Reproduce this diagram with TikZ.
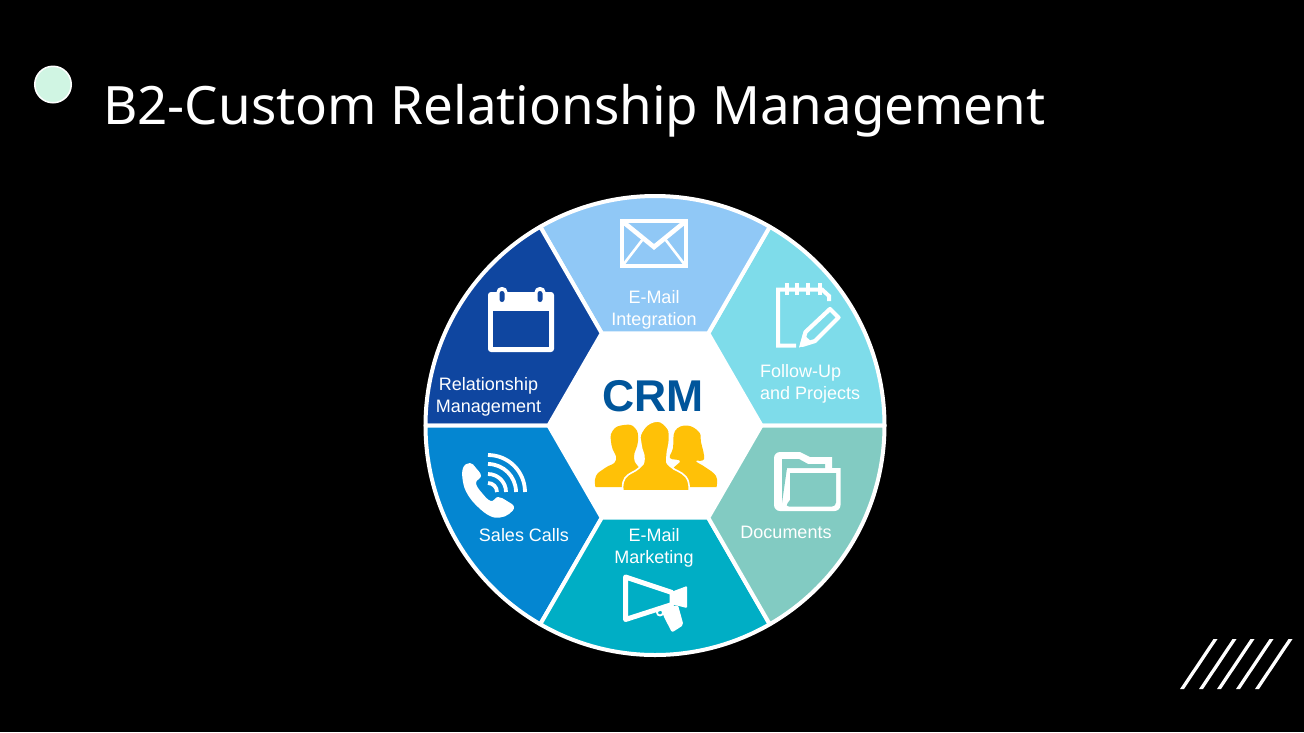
\documentclass[tikz,border=0pt]{standalone}
\usepackage{fontspec}
\setmainfont{Liberation Sans}
\newfontfamily\titlefont{Noto Sans}
\definecolor{docteal}{RGB}{130,203,194}
\definecolor{followcyan}{RGB}{126,220,234}
\definecolor{maillight}{RGB}{144,200,246}
\definecolor{relblue}{RGB}{15,70,160}
\definecolor{callblue}{RGB}{4,134,209}
\definecolor{marketcyan}{RGB}{0,174,197}
\definecolor{crmblue}{RGB}{0,85,155}
\definecolor{peoplegold}{RGB}{255,193,7}
\definecolor{dotmint}{RGB}{208,245,227}
\tikzset{
	sector/.style={draw=white,line width=4pt,line join=round},
	wheeltext/.style={text=white,font=\fontsize{18}{22}\selectfont,inner sep=0pt},
	iconline/.style={draw=white,line width=3.6pt},
	person/.style={fill=peoplegold,draw=none},
}
\begin{document}
\begin{tikzpicture}[x=1pt,y=-1pt]
	\fill[black] (0,0) rectangle (1304,732);
	\useasboundingbox (0,0) rectangle (1304,732);
	\coordinate (c) at (655,425.5);
	\foreach \i in {0,...,5} {
		\coordinate (o\i) at ({655+229.5*cos(\i*60)},{425.5-229.5*sin(\i*60)});
		\coordinate (h\i) at ({655+106.5*cos(\i*60)},{425.5-106.5*sin(\i*60)});
	}
	\node[circle,draw=white,line width=1.5pt,fill=dotmint,minimum size=36.5pt,inner sep=0pt] (dot) at (53,84.5) {};
	\node[anchor=base west,text=white,inner sep=0pt,font=\titlefont\fontsize{52.9}{60}\selectfont] (title) at (103,124) {B2-Custom Relationship Management};
	\foreach \i/\j/\a/\col in {0/1/0/followcyan,1/2/60/maillight,2/3/120/relblue,3/4/180/callblue,4/5/240/marketcyan,5/0/300/docteal} {
		\filldraw[sector,fill=\col] (h\i) -- (o\i) arc[start angle=\a,delta angle=60,radius=229.5pt] -- (h\j) -- cycle;
	}
	\fill[white] (h0) -- (h1) -- (h2) -- (h3) -- (h4) -- (h5) -- cycle;
	\node[text=crmblue,inner sep=0pt,font=\bfseries\fontsize{44.5}{50}\selectfont] (crm) at (653,396.5) {CRM};
	\node[wheeltext,align=center] (mail) at (654,310) {E-Mail\\Integration};
	\node[wheeltext,align=center] (rel) at (488.5,397) {Relationship\\Management};
	\node[wheeltext,align=left,anchor=west] (follow) at (760,384) {Follow-Up\\and Projects};
	\node[wheeltext] (docs) at (786,532) {Documents};
	\node[wheeltext] (calls) at (524,535) {Sales Calls};
	\node[wheeltext,align=center] (market) at (654,548) {E-Mail\\Marketing};
	% envelope
	\draw[iconline,line width=4.6pt] (622,221) rectangle (686,266);
	\draw[iconline,line width=4.6pt] (622,221) -- (654,247) -- (686,221);
	\draw[iconline,line width=2.6pt] (623,265) -- (643,239) (685,265) -- (665,239);
	% calendar
	\fill[white,rounded corners=3pt] (488,292) rectangle (554,352);
	\fill[relblue] (493,311) rectangle (549,347);
	\foreach \x in {502,540} {
		\fill[white,rounded corners=5pt] (\x-5.5,287) rectangle (\x+5.5,305);
		\fill[relblue,rounded corners=2.5pt] (\x-2.5,291) rectangle (\x+2.5,302);
	}
	% notepad and pencil
	\draw[iconline,line width=4pt] (796,345.5) -- (778,345.5) -- (778,289.5) -- (822,289.5) -- (829,296) -- (829,301);
	\foreach \x in {787,797,808,820} {
		\draw[white,line width=3.6pt] (\x,283) -- (\x,295);
	}
	\draw[iconline,line width=4.2pt,line join=round] (802,345) -- (805.5,332) -- (830,309) -- (838.5,317.5) -- (815,341) -- cycle;
	\fill[white] (799,347.5) -- (803,334) -- (813,343) -- cycle;
	% folder
	\fill[white] (774,452) -- (800,452) -- (810,457) -- (832,457) -- (832,468) -- (840.5,468) -- (840.5,503) [rounded corners=6pt] -- (840.5,511) -- (774,511) -- cycle;
	\fill[docteal] (782,459) -- (799,459) -- (808,464) -- (825,464) -- (825,468) -- (787,468) -- (782,503) -- cycle;
	\fill[docteal] (790,473) -- (836,473) -- (836,500) [rounded corners=4pt] -- (836,506.5) -- (785,506.5) [sharp corners] -- (790,500) -- cycle;
	% megaphone
	\draw[iconline,line width=5pt,line join=round] (625.5,577) -- (672,592.5) -- (672,604.5) -- (625.5,619.5) -- cycle;
	\fill[white,rounded corners=1pt] (671,592) -- (687,586) -- (687,608) -- (671,604) -- cycle;
	\fill[white,rounded corners=2pt] (661,609) -- (678,605) -- (683.5,625) -- (672,632.5) -- (664,617) -- cycle;
	\draw[white,line width=1.8pt] (660,612.5) circle (3pt);
	% phone
	\fill[white] plot[smooth cycle,tension=.7] coordinates {(463,468) (470,463) (476,468) (481,476) (476,483) (482,493) (491,501) (498,497) (507,501) (514,507) (509,514) (500,517.5) (490,516) (478,507) (468,495) (463,482)};
	\foreach \r in {9,18,28,37} {
		\draw[white,line width=3.8pt] (488,492-\r) arc[start angle=90,end angle=0,radius=\r pt];
	}
	% people
	\fill[person] plot[smooth,tension=.85] coordinates {(595.5,487) (596,476) (605,468) (616,460) (611.5,445) (612.5,431) (624,425) (635,428) (638,441) (634,458) (640,470) (645,487)} -- cycle;
	\fill[person] plot[smooth,tension=.7] coordinates {(716.5,487) (716,476) (705,467) (696,461) (704,459) (701,442) (699,432) (687,425.5) (675,431) (673,448) (670,458) (680,461) (672,470) (665,487)} -- cycle;
	\filldraw[person,draw=white,line width=1.6pt] plot[smooth,tension=.85] coordinates {(623,491) (625,478) (639,468) (644,459) (641,445) (641.5,432) (654,421.5) (666,426) (669.5,438) (667,457) (670,466) (686,477) (689,491)} -- cycle;
	% stripes
	\foreach \x in {1182,1201,1219,1238,1257} {
		\fill[white] (\x-2,689) -- (\x+2,689) -- (\x+35.5,639) -- (\x+31.5,639) -- cycle;
	}
\end{tikzpicture}
\end{document}
